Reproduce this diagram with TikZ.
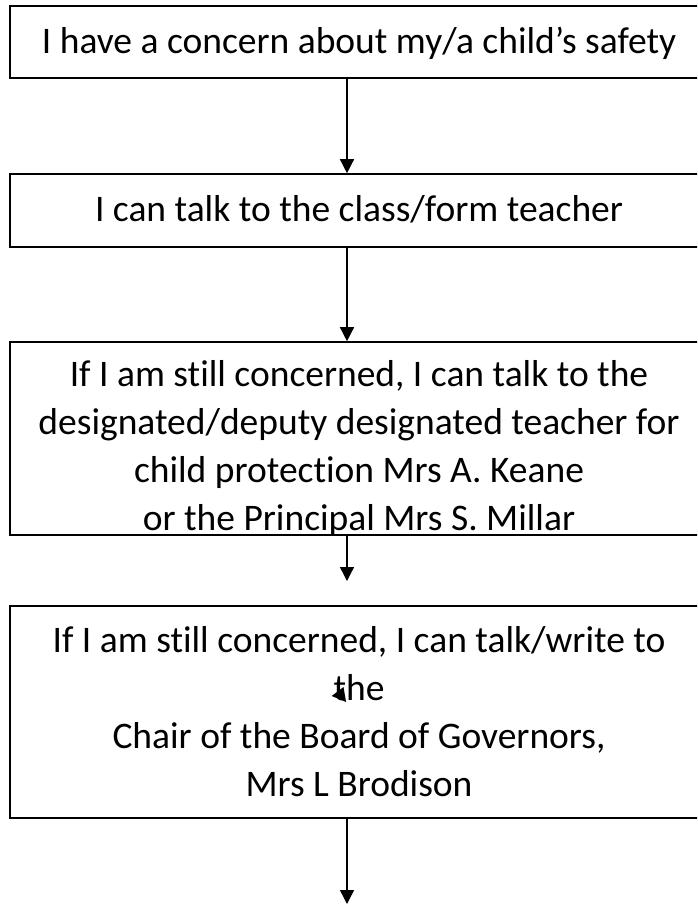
\documentclass[tikz,border=0pt]{standalone}
\usepackage{fontspec}
\setmainfont[Ligatures={NoCommon}]{Carlito}
\usetikzlibrary{arrows.meta}
\begin{document}
\begin{tikzpicture}[x=1pt,y=-1pt,
  box/.style={draw=black,line width=1.6pt,minimum width=698pt,inner sep=0pt,fill=none},
  txt/.style={anchor=base,inner sep=0pt,font=\fontsize{37.5}{44}\selectfont},
  flow/.style={line width=1.4pt,-{Triangle[length=14pt,width=14pt]}}]
\useasboundingbox (0,0) rectangle (697,905);
\clip (0,0) rectangle (697,905);
% texts
\node[txt] (t1) at (359,53) {I have a concern about my/a child’s safety};
\node[txt] (t2) at (359,221) {I can talk to the class/form teacher};
\node[txt] (t3a) at (359,386) {If I am still concerned, I can talk to the};
\node[txt] (t3b) at (359,434) {designated/deputy designated teacher for};
\node[txt] (t3c) at (359,482) {child protection Mrs A. Keane};
\node[txt] (t3d) at (359,530) {or the Principal Mrs S. Millar};
\node[txt] (t4a) at (359,652) {If I am still concerned, I can talk/write to};
\node[txt] (t4b) at (359,700) {the};
\node[txt] (t4c) at (359,748) {Chair of the Board of Governors,};
\node[txt] (t4d) at (359,796) {Mrs L Brodison};
% text overflowing box 3 is hidden below its bottom edge
\fill[white] (0,535) rectangle (697,560);
% boxes
\node[box,minimum height=72pt] (b1) at (359,42) {};
\node[box,minimum height=73pt] (b2) at (359,210.5) {};
\node[box,minimum height=193pt] (b3) at (359,438.5) {};
\node[box,minimum height=212pt] (b4) at (359,712) {};
% arrow column
\coordinate (ax) at (347,0);
\coordinate (e3) at (347,581);
\coordinate (e4) at (347,904);
\draw[flow] (b1.south -| ax) -- (b2.north -| ax);
\draw[flow] (b2.south -| ax) -- (b3.north -| ax);
\draw[flow] (b3.south -| ax) -- (e3);
\draw[flow] (b4.south -| ax) -- (e4);
% stray arrowhead near "the"
\fill[black] (331.7,696) -- (343.5,687) -- (346,702) -- cycle;
\end{tikzpicture}
\end{document}
